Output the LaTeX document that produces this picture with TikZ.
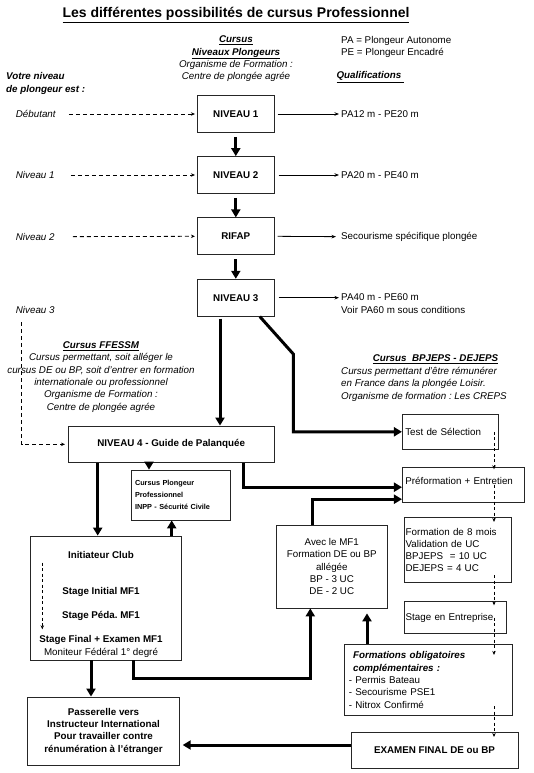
\documentclass[tikz,border=0pt]{standalone}
\usepackage{fontspec}
\setmainfont{Liberation Sans}
\usetikzlibrary{arrows.meta}
\newcommand\taille{\fontsize{9.8}{12.3}\selectfont}
\frenchspacing

\begin{document}
\begin{tikzpicture}[x=1pt,y=-1pt,
    every node/.style={font=\taille},
    txt/.style={inner sep=0pt},
    boite/.style={draw=black!85,line width=0.75pt,inner sep=3pt},
    cadre/.style={boite,align=left},
    niveau/.style={boite,minimum width=77pt,minimum height=37pt,font=\taille\bfseries},
    gros/.style={line width=3pt,-{Triangle[length=8pt,width=9pt]}},
    fin/.style={line width=0.8pt,-{Stealth[length=4.5pt,width=3.5pt]}},
    tirets/.style={line width=0.8pt,dash pattern=on 4pt off 3pt,-{Stealth[length=4pt,width=3.5pt]}}]
    \useasboundingbox (0,0) rectangle (534,773);

    \node[txt,font=\fontsize{14}{16}\selectfont\bfseries] (titre) at (236,15)
        {\underline{Les différentes possibilités de cursus Professionnel}};
    \node[txt,align=center] (cursus) at (236,59)
        {\underline{\textbf{\textit{Cursus}}}\\\underline{\textbf{\textit{Niveaux Plongeurs}}}\\
         \textit{Organisme de Formation :}\\\textit{Centre de plongée agrée}};
    \node[txt,anchor=west,align=left] (legende) at (341,46.7) {PA = Plongeur Autonome\\PE = Plongeur Encadré};
    \node[txt,anchor=west] (qualif) at (336.3,77.3) {\underline{\textbf{\textit{Qualifications }}}};
    \node[txt,anchor=west,align=left,font=\fontsize{9.8}{13}\selectfont\bfseries\itshape] (votre) at (6,83.5)
        {Votre niveau\\de plongeur est :};

    \node[niveau] (niv1) at (235.8,114) {NIVEAU 1};
    \node[niveau] (niv2) at (235.8,175) {NIVEAU 2};
    \node[niveau] (rifap) at (235.8,236.3) {RIFAP};
    \node[niveau] (niv3) at (235.8,297.7) {NIVEAU 3};

    \node[txt,anchor=west,font=\taille\itshape] (deb) at (15.7,114) {Débutant};
    \node[txt,anchor=west,font=\taille\itshape] (n1) at (15.7,175) {Niveau 1};
    \node[txt,anchor=west,font=\taille\itshape] (n2) at (15.7,236.7) {Niveau 2};
    \node[txt,anchor=west,font=\taille\itshape] (n3) at (15.7,310) {Niveau 3};

    \node[txt,anchor=west] (q1) at (341,114) {PA12 m - PE20 m};
    \node[txt,anchor=west] (q2) at (341,175) {PA20 m - PE40 m};
    \node[txt,anchor=west] (q3) at (341,236.7) {Secourisme spécifique plongée};
    \node[txt,anchor=west] (q4) at (341,296.7) {PA40 m - PE60 m};
    \node[txt,anchor=west] (q4b) at (341,310) {Voir PA60 m sous conditions};

    \node[txt,align=center,font=\taille\itshape] (ffessm) at (101,376.9)
        {\underline{\textbf{Cursus FFESSM}}\\Cursus permettant, soit alléger le\\
         cursus DE ou BP, soit d'entrer en formation\\internationale ou professionnel\\
         Organisme de Formation :\\Centre de plongée agrée};
    \node[txt,font=\taille\bfseries\itshape] (bptitre) at (435.5,359.3) {\underline{Cursus\ \ BPJEPS - DEJEPS}};
    \node[txt,anchor=west,align=left,font=\taille\itshape] (bptexte) at (341,384.3)
        {Cursus permettant d'être rémunérer\\en France dans la plongée Loisir.\\Organisme de formation : Les CREPS};

    \node[boite,minimum width=205.7pt,minimum height=36.7pt,font=\taille\bfseries] (niv4) at (171.2,444.3)
        {NIVEAU 4 - Guide de Palanquée};
    \node[cadre,minimum width=99pt,minimum height=50pt,inner xsep=4pt,text width=91pt,
        font=\fontsize{7.3}{12.2}\selectfont\bfseries] (pro) at (180.5,495)
        {Cursus Plongeur\\Professionnel\\INPP - Sécurité Civile};

    \node[boite,minimum width=151pt,minimum height=124pt] (init) at (106.2,598) {};
    \node[txt,font=\taille\bfseries] (ini1) at (101,555) {Initiateur Club};
    \node[txt,font=\taille\bfseries] (ini2) at (101,592.3) {Stage Initial MF1};
    \node[txt,font=\taille\bfseries] (ini3) at (101,616) {Stage Péda. MF1};
    \node[txt,align=center,font=\fontsize{9.8}{12.7}\selectfont] (ini4) at (101,646.3)
        {\textbf{Stage Final + Examen MF1}\\Moniteur Fédéral 1° degré};

    \node[boite,minimum width=151.6pt,minimum height=68.7pt,align=center,font=\taille\bfseries] (passerelle) at (103.5,731.3)
        {Passerelle vers\\Instructeur International\\Pour travailler contre\\rénumération à l'étranger};
    \node[boite,minimum width=111.7pt,minimum height=83pt,align=center] (avec) at (331.8,566.5)
        {Avec le MF1\\Formation DE ou BP\\allégée\\BP - 3 UC\\DE - 2 UC};

    \node[cadre,minimum width=96pt,minimum height=35pt,text width=90pt] (test) at (450.3,431.8) {Test de Sélection};
    \node[cadre,minimum width=121.7pt,minimum height=35pt,text width=115.7pt,text height=7pt,text depth=8pt] (prefo) at (463.2,485.2)
        {Préformation + Entretien};
    \node[cadre,minimum width=107.7pt,minimum height=65.4pt,inner xsep=1.7pt,text width=104.3pt] (form8) at (457.8,550)
        {Formation de 8 mois\\Validation de UC\\BPJEPS~ = 10 UC\\DEJEPS = 4 UC};
    \node[cadre,minimum width=102.7pt,minimum height=31.6pt,inner xsep=1.7pt,text width=99.3pt] (stage) at (455.3,617.5)
        {Stage en Entreprise};
    \node[cadre,minimum width=167.7pt,minimum height=71.4pt,inner xsep=4.4pt,text width=158.9pt] (oblig) at (428.2,680)
        {\hspace*{4.3pt}\textbf{\textit{Formations obligatoires}}\\\hspace*{4.3pt}\textbf{\textit{complémentaires :}}\\
         - Permis Bateau\\- Secourisme PSE1\\- Nitrox Confirmé};
    \node[boite,minimum width=167pt,minimum height=36pt,font=\taille\bfseries] (examen) at (434.5,750.3)
        {EXAMEN FINAL DE ou BP};

    \coordinate (n3pied) at (21.7,322);
    \coordinate (iniA) at (42.3,562.7);
    \coordinate (iniB) at (42.3,629.3);
    \coordinate (coude) at (293.3,354);
    \coordinate (colA) at (97.7,0);
    \coordinate (colB) at (149,0);
    \coordinate (colC) at (171.7,0);
    \coordinate (colD) at (220,0);
    \coordinate (colE) at (243.3,0);
    \coordinate (colF) at (312.7,0);
    \coordinate (colG) at (133.3,0);
    \coordinate (colH) at (310.3,0);
    \coordinate (colI) at (367,0);
    \coordinate (colJ) at (91,0);
    \coordinate (pointille) at (494,0);

    \draw[fin,shorten <=3pt,shorten >=2pt] (niv1.east) -- (q1.west);
    \draw[fin,shorten <=4pt,shorten >=2pt] (niv2.east) -- (q2.west);
    \draw[fin,shorten <=3pt,shorten >=5pt] (rifap.east) -- (q3.west);
    \draw[fin,shorten <=4pt,shorten >=2pt] (niv3.east) -- (niv3.east -| q4.west);

    \draw[tirets,shorten <=13pt,shorten >=2pt] (deb.east) -- (niv1.west);
    \draw[tirets,shorten <=16pt,shorten >=2pt] (n1.east) -- (niv2.west);
    \draw[tirets,shorten <=18pt,shorten >=2pt] (n2.east) -- (rifap.west);
    \draw[tirets,shorten >=3pt] (n3pied) |- (niv4.west);
    \draw[tirets,dash pattern=on 3pt off 2.5pt] (iniA) -- (iniB);

    \draw[gros,shorten <=4pt] (niv1) -- (niv2);
    \draw[gros,shorten <=4pt] (niv2) -- (rifap);
    \draw[gros,shorten <=4pt] (rifap) -- (niv3);
    \draw[gros,shorten <=2pt] (niv3.south -| colD) -- (niv4.north -| colD);
    \draw[gros] ([xshift=24pt]niv3.south) -- (coude) |- (test.west);
    \draw[gros] (niv4.south -| colA) -- (init.north -| colA);
    \draw[gros] (niv4.south -| colB) -- (pro.north -| colB);
    \draw[gros] (init.north -| colC) -- (pro.south -| colC);
    \draw[gros] (niv4.south -| colE) |- ([yshift=-2pt]prefo.west);
    \draw[gros] (avec.north -| colF) |- ([yshift=-14pt]prefo.west);
    \draw[gros] (init.south -| colG) -- ++(0,18.3) -| (avec.south -| colH);
    \draw[gros,shorten >=5pt] (oblig.north -| colI) -- (avec.south -| colI);
    \draw[gros] (init.south -| colJ) -- (passerelle.north -| colJ);
    \path (examen.west) ++(0,-5.3) coordinate (depart);
    \draw[gros,shorten >=3pt] (depart) -- (depart -| passerelle.east);

    \draw[tirets,dash pattern=on 3pt off 2.5pt,shorten >=-2pt] (test.center -| pointille) -- (prefo.north -| pointille);
    \draw[tirets,dash pattern=on 3pt off 2.5pt,shorten >=-5pt] (prefo.center -| pointille) -- (form8.north -| pointille);
    \draw[tirets,dash pattern=on 3pt off 2.5pt,shorten <=-8pt,shorten >=-4pt] (form8.south -| pointille) -- (stage.north -| pointille);
    \draw[tirets,dash pattern=on 3pt off 2.5pt,shorten >=-11pt] (stage.center -| pointille) -- (oblig.north -| pointille);
    \draw[tirets,dash pattern=on 3pt off 2.5pt,shorten <=-10pt,shorten >=-5pt] (oblig.south -| pointille) -- (examen.north -| pointille);
\end{tikzpicture}
\end{document}
